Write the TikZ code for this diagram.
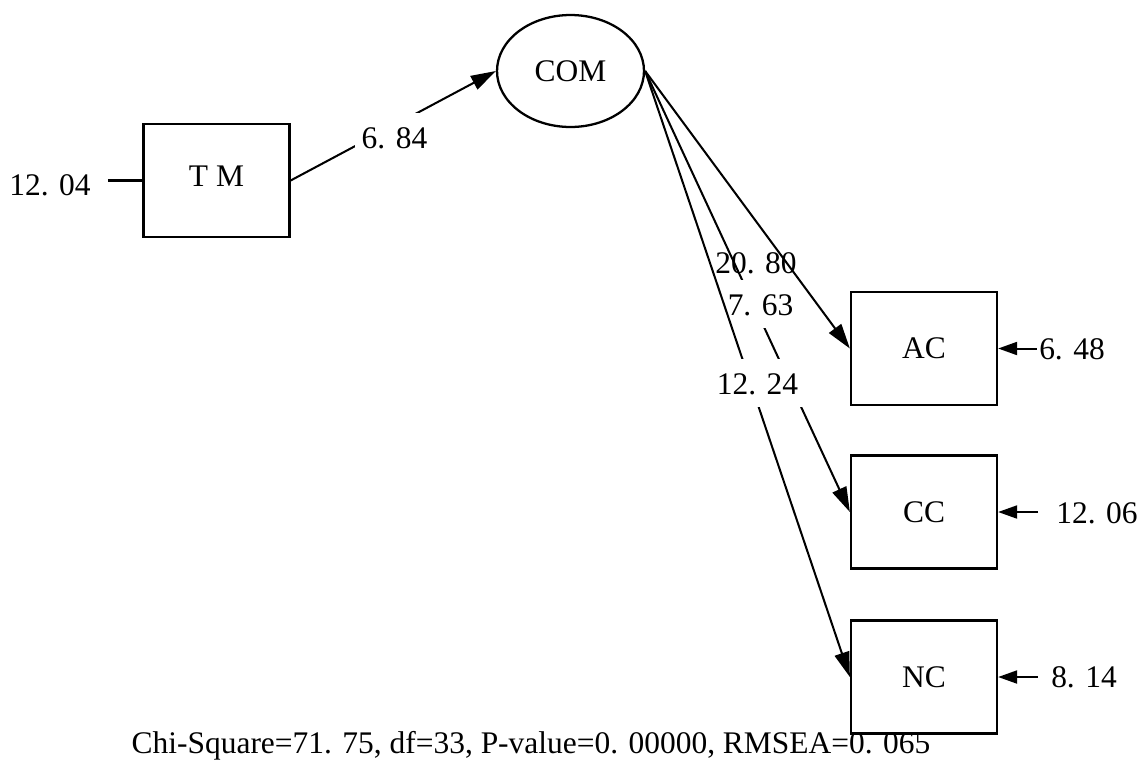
\documentclass[tikz,border=0pt]{standalone}
\usepackage{fontspec}
\setmainfont{Liberation Serif}
\usetikzlibrary{arrows.meta,shapes.geometric}

\newcommand{\SEMbw}{2.92 cm}
\newcommand{\SEMbh}{2.26 cm}
\newcommand{\SEMew}{2.94 cm}
\newcommand{\SEMeh}{2.24 cm}

\begin{document}
\begin{tikzpicture}[x=0.02cm,y=-0.02cm,
	font=\fontsize{17.9}{20}\selectfont,
	obs/.style={draw,line width=1.3pt,minimum width=\SEMbw,minimum height=\SEMbh,inner sep=0pt},
	lat/.style={ellipse,draw,line width=1.3pt,minimum width=\SEMew,minimum height=\SEMeh,inner sep=0pt},
	load/.style={line width=1.15pt,-{Triangle[length=0.5cm,width=0.3cm]}},
	resid/.style={line width=1.15pt,-{Triangle[length=0.38cm,width=0.26cm]}},
	err/.style={inner ysep=0pt},
	est/.style={anchor=base,inner ysep=0pt,inner xsep=0.14cm,text height=0.7cm,text depth=0.26cm},
	gap/.style={est,fill=white}]

	\useasboundingbox (0,0) rectangle (1141,765);

	%The variables
	\node[obs] (tm) at (216.5,180.5) {\raisebox{0.16cm}{T M}};
	\node[lat] (com) at (570.5,71) {COM};
	\node[obs] (ac) at (924,348.5) {AC};
	\node[obs] (cc) at (924,512) {CC};
	\node[obs] (nc) at (924,677) {NC};

	%The error terms
	\node[err,inner xsep=0.34cm] (e_tm) at (50,185) {12. 04};
	\node[err,inner xsep=0.04cm] (e_ac) at (1072,349) {6. 48};
	\node[err,inner xsep=0.36cm] (e_cc) at (1097,513) {12. 06};
	\node[err,inner xsep=0.26cm] (e_nc) at (1084,677) {8. 14};
	\draw[line width=1.15pt] (e_tm.east |- tm.west) -- (tm.west);
	\draw[resid] (e_ac.west |- ac.east) -- (ac.east);
	\draw[resid] (e_cc.west |- cc.east) -- (cc.east);
	\draw[resid] (e_nc.west |- nc.east) -- (nc.east);

	%The paths and their estimates
	\draw[load] (tm.east) -- (com.west);
	\node[gap] (l_tm) at (394.5,148) {6. 84};
	\draw[load] (com.east) -- (cc.west);
	\node[gap] (l_cc) at (760.5,315) {7. 63};
	\draw[load] (com.east) -- (nc.west);
	\node[gap] (l_nc) at (757.5,394) {12. 24};
	\draw[load] (com.east) -- (ac.west);
	\node[est] (l_ac) at (756,273) {20. 80};

	%The fit line
	\node[anchor=base] (fit) at (531,753) {Chi-Square=71. 75, df=33, P-value=0. 00000, RMSEA=0. 065};

\end{tikzpicture}
\end{document}
